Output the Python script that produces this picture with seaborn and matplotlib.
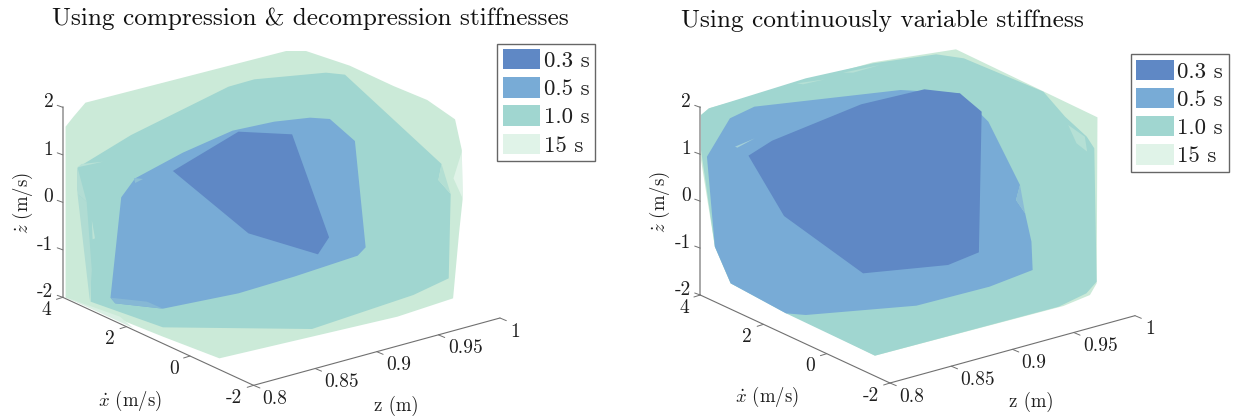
import matplotlib
matplotlib.use("Agg")
import matplotlib.pyplot as plt
from matplotlib.patches import Patch
import numpy as np
import seaborn as sns

# Horizon labels and fill colours
horizons = ["0.3 s", "0.5 s", "1.0 s", "15 s"]
fill_colors = ["#5f88c5", "#78abd6", "#a0d6d0", "#cbead8"]
legend_colors = ["#5f88c5", "#78abd6", "#a0d6d0", "#e0f3e8"]

zdot_ticks = ["2", "1", "0", "-1", "-2"]
xdot_ticks = ["4", "2", "0", "-2"]
z_ticks = ["0.8", "0.85", "0.9", "0.95", "1"]

titles = ["Using compression & decompression stiffnesses", "Using continuously variable stiffness"]

# Projected outlines of the reachable sets
left_15 = [(215,308),(720,153),(770,153),(880,197),(990,258),(1075,300),(1145,358),(1162,450),(1164,598),(1155,700),(1140,895),(1000,950),(552,1075),(410,1010),(165,893),(165,380),(185,350)]
left_10 = [(195,503),(330,405),(575,260),(640,238),(820,218),(868,224),(1111,492),(1103,540),(1134,582),(1129,835),(1040,885),(785,987),(410,982),(228,905),(228,800),(195,570)]
left_05 = [(305,592),(340,535),(460,458),(585,392),(690,365),(780,353),(830,357),(893,423),(920,742),(900,767),(740,830),(600,880),(410,926),(290,910),(278,893)]
left_03 = [(435,513),(600,395),(735,403),(828,712),(800,763),(625,700)]

right_15 = [(205,345),(225,325),(640,187),(850,148),(1208,352),(1206,850),(1189,885),(1122,918),(645,1067),(420,935),(280,850),(240,740),(205,480)]
right_10 = [(205,345),(225,325),(280,305),(470,235),(640,190),(800,163),(870,175),(1071,275),(1126,350),(1181,410),(1200,445),(1206,845),(1180,880),(1110,920),(645,1067),(420,940),(280,850),(240,740),(205,450)]
right_05 = [(220,470),(278,355),(340,320),(710,270),(860,280),(932,365),(1012,555),(1002,600),(1025,640),(1041,725),(1044,810),(935,860),(750,917),(470,945),(420,940),(280,850),(240,740)]
right_03 = [(325,467),(385,422),(610,313),(770,268),(860,280),(915,335),(908,757),(830,795),(615,820),(415,648)]

# Small translucent facets visible where surfaces overlap
left_facets = [
    ([(195,502),(260,485),(205,492)], "#b8e1d6"),
    ([(195,502),(218,605),(195,582)], "#b3ddd4"),
    ([(231,660),(239,715),(233,718)], "#bde3d6"),
    ([(195,582),(226,902),(231,810),(218,605)], "#b0dcd3"),
    ([(337,534),(360,537),(340,549)], "#8dbfd5"),
    ([(278,893),(290,910),(410,926),(370,905)], "#86b8d5"),
    ([(166,892),(335,984),(302,950)], "#d9efe3"),
    ([(1162,455),(1141,535),(1164,595)], "#e0f3e8"),
    ([(1111,492),(1103,540),(1134,582)], "#b3dfd3"),
]
right_facets = [
    ([(291,440),(341,415),(297,443)], "#a3cfd8"),
    ([(447,250),(519,238),(463,253)], "#b5e0d5"),
    ([(564,218),(658,195),(590,218)], "#b5e0d5"),
    ([(1134,375),(1176,410),(1182,455),(1155,430)], "#b5e0d5"),
    ([(1012,555),(1002,600),(1025,640)], "#8bbcd6"),
]

sns.set_theme(style="white")
plt.rcParams["font.family"] = ["cmr10", "DejaVu Serif"]
plt.rcParams["mathtext.fontset"] = "cm"
plt.rcParams["axes.formatter.use_mathtext"] = True
plt.rcParams["axes.unicode_minus"] = False

fig = plt.figure(figsize=(12.35, 4.16), dpi=100)
INK = "#1f1f1f"
AXIS = "#707070"


def panel(rect, width, outlines, facets, top_xy, axis_height, title, title_xy, legend_xy, label_xy):
    ax = fig.add_axes(rect)
    ax.set_xlim(0, width)
    ax.set_ylim(1248, 0)
    ax.axis("off")
    for outline, color in zip(outlines[::-1], fill_colors[::-1]):
        ax.fill(*zip(*outline), color=color, lw=0)
    for outline, color in facets:
        ax.fill(*zip(*outline), color=color, lw=0)

    top = np.array(top_xy)
    zd_end = top + np.array([0, axis_height])
    xd_end = zd_end + np.array([480, 264])
    z_end = xd_end + np.array([620, -202])
    ax.plot([top[0], zd_end[0]], [top[1], zd_end[1]], color="#9a9a9a", lw=1.2)
    for a, b in [(zd_end, xd_end), (xd_end, z_end)]:
        ax.plot([a[0], b[0]], [a[1], b[1]], color=AXIS, lw=0.8)

    for t, lab in zip(np.linspace(0, 1, 5), zdot_ticks):
        p = top + t * (zd_end - top)
        ax.plot([p[0] - 14, p[0]], [p[1] - 6, p[1]], color=AXIS, lw=0.7)
        ax.text(p[0] - 36 - (8 if lab.startswith("-") else 0), p[1] - 15, lab, ha="center", va="center",
                fontsize=14, color=INK)
    for t, lab in zip(np.linspace(0, 1, 4), xdot_ticks):
        p = zd_end + t * (xd_end - zd_end)
        ax.plot([p[0] - 16, p[0]], [p[1] + 6, p[1]], color=AXIS, lw=0.7)
        ax.text(p[0] - 41 - (8 if lab.startswith("-") else 0), p[1] + 38, lab, ha="center", va="center",
                fontsize=14, color=INK)
    for t, lab, dx in zip(np.linspace(0, 1, 5), z_ticks, [54, 67, 55, 68, 39]):
        p = xd_end + t * (z_end - xd_end)
        ax.plot([p[0], p[0] + 16], [p[1], p[1] + 8], color=AXIS, lw=0.7)
        ax.text(p[0] + dx, p[1] + 41, lab, ha="center", va="center", fontsize=14, color=INK)

    ax.text(*label_xy[0], r"$\dot{x}$ (m/s)", ha="center", va="center", fontsize=13.5, color=INK)
    ax.text(*label_xy[1], "z (m)", ha="center", va="center", fontsize=13.5, color=INK)
    ax.text(*label_xy[2], r"$\dot{z}$ (m/s)", ha="center", va="center", rotation=90, fontsize=13.5, color=INK)
    ax.text(*title_xy, title, ha="center", va="center", fontsize=18.2, color="#111111")

    handles = [Patch(facecolor=c, edgecolor="none") for c in legend_colors]
    ax.legend(handles, horizons, loc="upper left", bbox_to_anchor=(legend_xy[0] / width, 1 - legend_xy[1] / 1248),
              fontsize=16.5, handlelength=1.64, handleheight=0.98, labelspacing=0.27, borderpad=0.24,
              handletextpad=0.16, borderaxespad=0, frameon=True, fancybox=False, framealpha=1,
              edgecolor="#666666", labelcolor=INK)
    return ax


panel([0, 0, 620 / 1235, 1], 1560, [left_03, left_05, left_10, left_15], left_facets, (158, 322), 570, titles[0],
      (780, 55), (1251, 131), [(328, 1203), (997, 1218), (58, 610)])
panel([620 / 1235, 0, 615 / 1235, 1], 1556, [right_03, right_05, right_10, right_15], right_facets, (203, 322), 563,
      titles[1], (665, 62), (1292, 163), [(372, 1192), (1040, 1207), (100, 605)])

fig.savefig("out.png", dpi=100)
